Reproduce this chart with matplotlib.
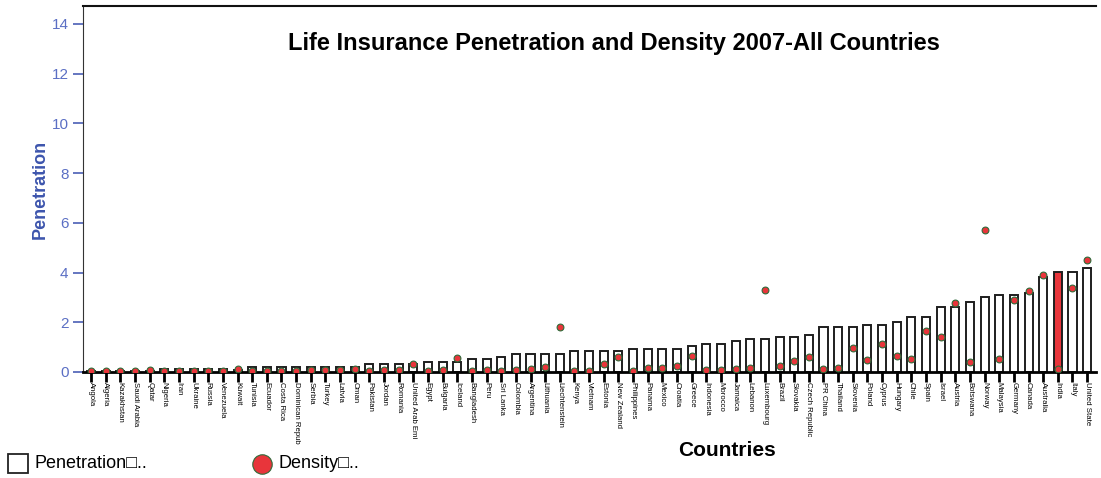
import matplotlib
matplotlib.use("Agg")
import matplotlib.pyplot as plt
from matplotlib.lines import Line2D
from matplotlib.patches import Rectangle

plt.rcParams['font.family'] = ['Liberation Sans', 'DejaVu Sans']

countries = [
    "Angola", "Algeria", "Kazakhstan", "Saudi Arabia", "Qatar", "Nigeria", "Iran",
    "Ukraine", "Russia", "Venezuela", "Kuwait", "Tunisia", "Ecuador", "Costa Rica",
    "Dominican Repub", "Serbia", "Turkey", "Latvia", "Oman", "Pakistan", "Jordan",
    "Romania", "United Arab Emi", "Egypt", "Bulgaria", "Iceland", "Bangladesh",
    "Peru", "Sri Lanka", "Colombia", "Argentina", "Lithuania", "Liechtenstein",
    "Kenya", "Vietnam", "Estonia", "New Zealand", "Philippines", "Panama",
    "Mexico", "Croatia", "Greece", "Indonesia", "Morocco", "Jamaica", "Lebanon",
    "Luxembourg", "Brazil", "Slovakia", "Czech Republic", "PR China", "Thailand",
    "Slovenia", "Poland", "Cyprus", "Hungary", "Chile", "Spain", "Israel",
    "Austria", "Botswana", "Norway", "Malaysia", "Germany", "Canada",
    "Australia", "India", "Italy", "United State",
]

penetration = [
    0.02, 0.02, 0.03, 0.03, 0.05, 0.12, 0.12, 0.12, 0.12, 0.12, 0.08, 0.2,
    0.2, 0.2, 0.2, 0.2, 0.2, 0.2, 0.2, 0.31, 0.31, 0.31, 0.33, 0.42,
    0.42, 0.42, 0.52, 0.52, 0.62, 0.72, 0.72, 0.72, 0.72, 0.83, 0.83, 0.83,
    0.83, 0.93, 0.93, 0.93, 0.93, 1.03, 1.13, 1.13, 1.23, 1.33, 1.33, 1.41,
    1.41, 1.5, 1.81, 1.81, 1.81, 1.9, 1.9, 2.01, 2.21, 2.21, 2.61, 2.61,
    2.8, 3.0, 3.1, 3.1, 3.19, 3.82, 4.02, 4.02, 4.18,
]

density = [
    0.02, 0.02, 0.02, 0.02, 0.09, 0.03, 0.03, 0.04, 0.03, 0.03, 0.11, 0.04,
    0.05, 0.05, 0.05, 0.06, 0.06, 0.07, 0.12, 0.03, 0.07, 0.08, 0.34, 0.05,
    0.07, 0.55, 0.04, 0.07, 0.04, 0.08, 0.11, 0.2, 1.81, 0.04, 0.05, 0.31,
    0.59, 0.05, 0.14, 0.18, 0.24, 0.66, 0.07, 0.07, 0.12, 0.17, 3.3, 0.23,
    0.46, 0.62, 0.12, 0.17, 0.98, 0.5, 1.11, 0.64, 0.54, 1.66, 1.41, 2.78,
    0.39, 5.71, 0.52, 2.9, 3.24, 3.91, 0.1, 3.36, 4.49,
]

highlight = "India"

blue = "#4a5fb5"
red = "#e8353b"

fig = plt.figure(figsize=(11.01, 4.78), dpi=100)
ax = fig.add_axes([0.0754, 0.2218, 0.92, 0.7657])

x = list(range(len(countries)))
fills = [red if c == highlight else "white" for c in countries]
ax.bar(x, penetration, width=0.55, color=fills, edgecolor="#1e1e1e",
       linewidth=1.4, zorder=2)
ax.scatter(x, density, s=24, color=red, edgecolors="#2f6b3a",
           linewidths=0.8, zorder=3)

ax.set_xlim(-0.55, 68.6)
ax.set_ylim(0, 14.72)
ax.set_yticks(range(0, 15, 2))
ax.tick_params(axis="y", colors=blue, labelsize=11, length=7, width=1.2)
for lbl in ax.get_yticklabels():
    lbl.set_color("#5b6fc4")
ax.set_xticks(x)
ax.set_xticklabels(countries, rotation=270, fontsize=5.6, va="top", ha="center")
ax.tick_params(axis="x", length=7, width=2, colors="black", pad=0)

ax.spines["right"].set_visible(False)
ax.spines["left"].set_color("#333333")
ax.spines["top"].set_color("#111111")
ax.spines["top"].set_linewidth(1.5)
ax.spines["bottom"].set_linewidth(2)

ax.set_ylabel("Penetration", color="#3d55ad", fontsize=13, fontweight="bold",
              labelpad=2)
ax.text(0.524, 0.898, "Life Insurance Penetration and Density 2007-All Countries",
        transform=ax.transAxes, ha="center", va="center", fontsize=17,
        fontweight="bold")
fig.text(0.66, 0.058, "Countries", ha="center", va="center", fontsize=15,
         fontweight="bold")

# legend drawn by hand below the axes
fig.patches.append(Rectangle((8 / 1101, 5 / 478), 20 / 1101, 19 / 478,
                             transform=fig.transFigure, facecolor="white",
                             edgecolor="#222222", linewidth=1.3))
fig.text(34 / 1101, 14.5 / 478, "Penetration\u25a1..", va="center", fontsize=13)
fig.lines.append(Line2D([262 / 1101], [14.5 / 478], transform=fig.transFigure,
                        marker="o", markersize=14, color=red,
                        markeredgecolor="#2f6b3a", markeredgewidth=0.8))
fig.text(278 / 1101, 14.5 / 478, "Density\u25a1..", va="center", fontsize=13)

fig.savefig("out.png", dpi=100)
